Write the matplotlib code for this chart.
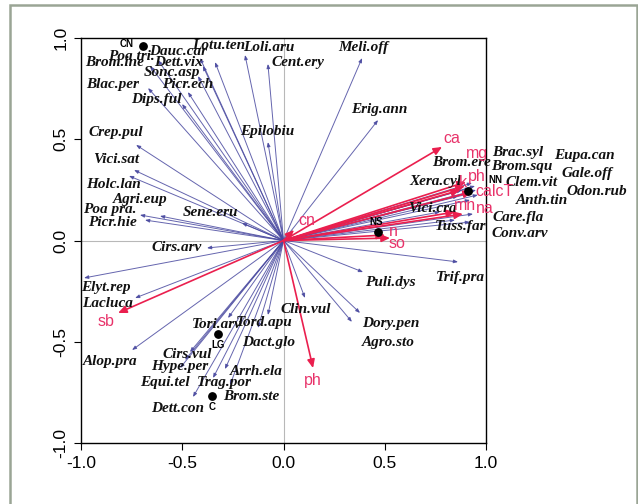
import matplotlib
matplotlib.use("Agg")
import matplotlib.pyplot as plt
from matplotlib.patches import Rectangle

# ---- species scores (arrow tips) ----
species = ["Poa tri.", "Dauc.car", "Lotu.ten", "Loli.aru", "Dett.vix", "Brom.ine",
           "Sonc.asp", "Blac.per", "Picr.ech", "Dips.ful", "Cent.ery", "Meli.off",
           "Erig.ann", "Epilobiu", "Crep.pul", "Vici.sat", "Holc.lan", "Agri.eup",
           "Poa pra.", "Picr.hie", "Sene.eru", "Cirs.arv", "Elyt.rep", "Lacluca",
           "Alop.pra", "Tori.arv", "Tord.apu", "Dact.glo", "Clin.vul", "Cirs.vul",
           "Hype.per", "Equi.tel", "Trag.por", "Arrh.ela", "Brom.ste", "Dett.con",
           "Puli.dys", "Trif.pra", "Dory.pen", "Agro.sto", "Brac.syl", "Eupa.can",
           "Brom.ere", "Brom.squ", "Gale.off", "Xera.cyl", "Clem.vit", "Odon.rub",
           "Anth.tin", "Vici.cra", "Care.fla", "Tuss.far", "Conv.arv"]
sp_x = [-0.620, -0.412, -0.338, -0.190, -0.398, -0.659,
        -0.422, -0.669, -0.472, -0.501, -0.077, 0.388,
        0.467, -0.077, -0.728, -0.738, -0.763, -0.610,
        -0.709, -0.684, -0.205, -0.378, -0.985, -0.733,
        -0.748, -0.274, -0.077, -0.126, 0.106, -0.462,
        -0.486, -0.511, -0.348, -0.289, -0.264, -0.447,
        0.393, 0.862, 0.378, 0.338, 0.931, 0.946,
        0.881, 0.921, 0.951, 0.862, 0.931, 0.960,
        0.921, 0.773, 0.936, 0.847, 0.921]
sp_y = [0.891, 0.901, 0.881, 0.916, 0.862, 0.862,
        0.812, 0.753, 0.733, 0.674, 0.872, 0.901,
        0.595, 0.486, 0.472, 0.348, 0.319, 0.121,
        0.126, 0.101, 0.086, -0.037, -0.185, -0.284,
        -0.541, -0.383, -0.368, -0.432, -0.284, -0.551,
        -0.590, -0.630, -0.679, -0.635, -0.714, -0.773,
        -0.156, -0.106, -0.358, -0.402, 0.284, 0.269,
        0.249, 0.259, 0.249, 0.220, 0.235, 0.225,
        0.200, 0.141, 0.131, 0.101, 0.091]

# ---- environmental variables ----
env = ["ca", "mg", "ph", "k", "calcT", "mn", "na", "n", "so", "cn", "ph", "sb"]
env_x = [0.783, 0.901, 0.896, 0.872, 0.931, 0.847, 0.886, 0.501, 0.526, 0.052, 0.146, -0.817]
env_y = [0.462, 0.289, 0.269, 0.249, 0.240, 0.141, 0.131, 0.027, 0.012, 0.052, -0.630, -0.358]

# ---- sites ----
sites = ["CN", "NN", "NS", "LG", "C"]
site_x = [-0.694, 0.911, 0.467, -0.323, -0.353]
site_y = [0.960, 0.244, 0.042, -0.462, -0.768]

# ---- label placement (layout only) ----
sp_label_pos = {
    "Poa tri.": (-0.753, 0.911), "Dauc.car": (-0.521, 0.931), "Lotu.ten": (-0.319, 0.965),
    "Loli.aru": (-0.072, 0.951), "Dett.vix": (-0.521, 0.881), "Brom.ine": (-0.832, 0.881),
    "Sonc.asp": (-0.551, 0.832), "Blac.per": (-0.842, 0.768), "Picr.ech": (-0.472, 0.768),
    "Dips.ful": (-0.630, 0.694), "Cent.ery": (0.072, 0.877), "Meli.off": (0.393, 0.951),
    "Erig.ann": (0.472, 0.649), "Epilobiu": (-0.081, 0.536), "Crep.pul": (-0.827, 0.531),
    "Vici.sat": (-0.827, 0.398), "Holc.lan": (-0.842, 0.279), "Agri.eup": (-0.709, 0.200),
    "Poa pra.": (-0.857, 0.151), "Picr.hie": (-0.847, 0.091), "Sene.eru": (-0.363, 0.136),
    "Cirs.arv": (-0.526, -0.037), "Elyt.rep": (-0.877, -0.230), "Lacluca": (-0.867, -0.309),
    "Alop.pra": (-0.857, -0.600), "Tori.arv": (-0.328, -0.417), "Tord.apu": (-0.096, -0.407),
    "Dact.glo": (-0.072, -0.506), "Clin.vul": (0.111, -0.343), "Cirs.vul": (-0.477, -0.565),
    "Hype.per": (-0.511, -0.620), "Equi.tel": (-0.585, -0.699), "Trag.por": (-0.294, -0.699),
    "Arrh.ela": (-0.136, -0.649), "Brom.ste": (-0.160, -0.768), "Dett.con": (-0.521, -0.832),
    "Puli.dys": (0.526, -0.205), "Trif.pra": (0.872, -0.185), "Dory.pen": (0.531, -0.412),
    "Agro.sto": (0.516, -0.506), "Brac.syl": (1.158, 0.437), "Eupa.can": (1.484, 0.422),
    "Brom.ere": (0.877, 0.383), "Brom.squ": (1.178, 0.363), "Gale.off": (1.499, 0.333),
    "Xera.cyl": (0.748, 0.289), "Clem.vit": (1.227, 0.284), "Odon.rub": (1.548, 0.240),
    "Anth.tin": (1.277, 0.200), "Vici.cra": (0.733, 0.160), "Care.fla": (1.158, 0.116),
    "Tuss.far": (0.877, 0.067), "Conv.arv": (1.168, 0.037),
}
env_label_pos = [(0.832, 0.506), (0.956, 0.432), (0.956, 0.318), (0.888, 0.284),
                 (1.040, 0.240), (0.896, 0.175), (0.995, 0.160), (0.541, 0.042),
                 (0.560, -0.017), (0.116, 0.101), (0.146, -0.689), (-0.877, -0.402)]
site_label_pos = [(-0.775, 0.968), (1.044, 0.299), (0.457, 0.091), (-0.323, -0.516), (-0.353, -0.822)]

fig = plt.figure(figsize=(6.38, 5.04), dpi=100)
ax = fig.add_axes([81 / 638, 1 - 443 / 504, 405 / 638, 405 / 504])
ax.set_xlim(-1, 1)
ax.set_ylim(-1, 1)

# outer frame of the figure
fig.patches.append(Rectangle((10 / 638, -0.05), 627 / 638, 1.04, transform=fig.transFigure,
                             fill=False, edgecolor="#9aa595", linewidth=1.8, clip_on=False))

ax.axhline(0, color="#b8b8b8", linewidth=0.8, zorder=0)
ax.axvline(0, color="#b8b8b8", linewidth=0.8, zorder=0)

sp_col = "#4a4aa0"
for x, y in zip(sp_x, sp_y):
    ax.annotate("", xy=(x, y), xytext=(0, 0),
                arrowprops=dict(arrowstyle="-|>,head_length=0.25,head_width=0.1",
                                color=sp_col, lw=0.7, alpha=0.85, shrinkA=0, shrinkB=0),
                zorder=2, annotation_clip=False)

red = "#ea1f4e"
for x, y in zip(env_x, env_y):
    ax.annotate("", xy=(x, y), xytext=(0, 0),
                arrowprops=dict(arrowstyle="-|>,head_length=0.5,head_width=0.22",
                                color=red, lw=1.2, shrinkA=0, shrinkB=0),
                zorder=3, annotation_clip=False)

for name in species:
    lx, ly = sp_label_pos[name]
    ax.text(lx, ly, name, fontsize=11, family="Liberation Serif", fontweight="bold",
            fontstyle="italic", ha="center", va="center", color="#111111", zorder=4,
            clip_on=False)

for name, (lx, ly) in zip(env, env_label_pos):
    ax.text(lx, ly, name, fontsize=11.5, family="Liberation Sans", color="#e8336a",
            ha="center", va="center", zorder=5, clip_on=False)

ax.scatter(site_x, site_y, s=28, color="black", zorder=6)
for name, (lx, ly) in zip(sites, site_label_pos):
    ax.text(lx, ly, name, fontsize=7, family="Liberation Sans", fontweight="bold",
            ha="center", va="center", color="black", zorder=6, clip_on=False)

ticks = [-1.0, -0.5, 0.0, 0.5, 1.0]
ax.set_xticks(ticks)
ax.set_yticks(ticks)
ax.set_xticklabels([f"{t:.1f}" for t in ticks], family="Liberation Sans", fontsize=12.5)
ax.set_yticklabels([f"{t:.1f}" for t in ticks], family="Liberation Sans", fontsize=12.5,
                   rotation=90, va="center")
ax.tick_params(direction="out", length=5, width=0.8, pad=4)
for s in ax.spines.values():
    s.set_linewidth(1.0)

fig.savefig("out.png", dpi=100)
